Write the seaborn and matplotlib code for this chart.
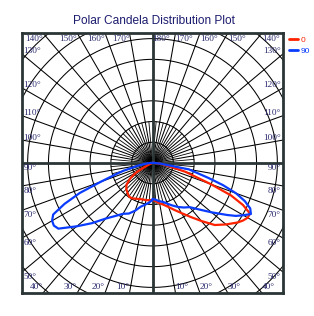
import numpy as np
import pandas as pd
import seaborn as sns
import matplotlib
matplotlib.use("Agg")
import matplotlib.pyplot as plt
from matplotlib.lines import Line2D

# ---- data (candela; ring spacing = 100 cd) ----
angles = [0, 5, 10, 15, 20, 25, 30, 35, 40, 45, 50, 55, 57.5, 60, 62.5, 65,
          67.5, 70, 72.5, 75, 80, 85, 90, 100, 120, 140, 160, 180]
# plane "0": C0 (right half) and C180 (left half)
c0 = [178, 185, 197, 209, 226, 250, 279, 317, 365, 423, 461, 500, 516, 528, 528, 480,
      408, 298, 211, 163, 72, 34, 10, 5, 2, 1, 1, 0]
c180 = [178, 180, 182, 182, 185, 190, 197, 197, 187, 178, 163, 132, 110, 86, 48, 24,
        14, 10, 7, 5, 5, 4, 3, 2, 1, 1, 0, 0]
# plane "90": C90 (right half) and C270 (left half)
c90 = [173, 178, 187, 194, 209, 226, 245, 262, 278, 317, 370, 437, 475, 504, 533, 518,
       480, 427, 355, 278, 178, 40, 14, 5, 2, 1, 0, 0]
c270 = [178, 192, 204, 218, 245, 269, 283, 312, 350, 410, 475, 552, 562, 557, 538, 466,
        379, 264, 192, 144, 67, 29, 10, 5, 2, 1, 0, 0]

plane_labels = ["0", "90"]
plane_colors = ["#ff2200", "#0a3cff"]
tick_angles = [10, 20, 30, 40, 50, 60, 70, 80, 90, 100, 110, 120, 130, 140, 150, 160, 170, 180]
title = "Polar Candela Distribution Plot"

# ---- build table ----
def half(values, side):
    a = np.radians(np.array(angles, dtype=float))
    r = np.array(values, dtype=float)
    return side * r * np.sin(a), -r * np.cos(a)

rows = []
for label, left, right in [("0", c180, c0), ("90", c270, c90)]:
    xl, yl = half(left, -1)
    xr, yr = half(right, 1)
    xs = np.concatenate([xl[::-1], xr])
    ys = np.concatenate([yl[::-1], yr])
    for i, (x, y) in enumerate(zip(xs, ys)):
        rows.append({"plane": label, "x": x, "y": y, "order": i})
df = pd.DataFrame(rows)

sns.set_theme(style="white")
W, H = 314, 316
fig = plt.figure(figsize=(W / 100, H / 100), dpi=100)
ax = fig.add_axes([22 / W, 23 / H, 261 / W, 260 / H])

B = 627.0          # half box size in cd
PX = B / 130.5     # cd per pixel
ax.set_xlim(-B, B)
ax.set_ylim(-B, B)
ax.set_aspect("auto")

# grid rings
t = np.linspace(0, 2 * np.pi, 400)
for k in range(1, 10):
    ax.plot(100 * k * np.cos(t), 100 * k * np.sin(t), color="black", lw=0.75, zorder=1)
# radial lines
for a in range(0, 360, 5):
    ar = np.radians(a)
    full = a % 10 == 0
    rmax = 950 if full else 200
    ax.plot([0, rmax * np.sin(ar)], [0, -rmax * np.cos(ar)], color="black",
            lw=0.75 if full else 0.6, zorder=1)

ax.axhline(0, color="#2b3535", lw=2.0, zorder=2)
ax.axvline(0, color="#2b3535", lw=2.0, zorder=2)

sns.lineplot(data=df, x="x", y="y", hue="plane", palette=dict(zip(plane_labels, plane_colors)),
             sort=False, estimator=None, lw=1.6, legend=False, ax=ax, zorder=3)

for s in ax.spines.values():
    s.set_color("#2b3535")
    s.set_linewidth(2.0)
ax.set_xticks([])
ax.set_yticks([])
ax.set_xlabel("")
ax.set_ylabel("")

# angle labels along the box edges
lab_kw = dict(fontsize=6.7, family=["Liberation Serif", "DejaVu Serif"], color="#2a2a6e", zorder=4)
for a in tick_angles:
    ar = np.radians(a)
    sides = (1,) if a == 180 else (-1, 1)
    for side in sides:
        dx, dy = side * np.sin(ar), -np.cos(ar)
        tt = B / max(abs(dx), abs(dy))
        px, py = tt * dx, tt * dy
        txt = f"{a}°"
        ha_side = "left" if side > 0 else "right"
        if abs(dy) >= abs(dx) - 1e-9:
            if dy < 0:
                ax.text(px, -B + 2.5 * PX, txt, ha=ha_side, va="bottom", **lab_kw)
            else:
                ax.text(px, B - 2 * PX, txt, ha=ha_side, va="top", **lab_kw)
        else:
            xx = -B + 1.5 * PX if side < 0 else B - 2 * PX
            ha = "left" if side < 0 else "right"
            if a <= 90:
                ax.text(xx, py - 0.8 * PX, txt, ha=ha, va="top", **lab_kw)
            else:
                ax.text(xx, py - 1.5 * PX, txt, ha=ha, va="bottom", **lab_kw)

fig.text(154 / W, 1 - 24 / H, title, ha="center", va="baseline", fontsize=8.6,
         family=["Liberation Sans", "DejaVu Sans"], color="#1c1c70")

handles = [Line2D([], [], color=c, lw=2) for c in plane_colors]
leg = ax.legend(handles, plane_labels, loc="upper left", bbox_to_anchor=(289 / W, 1 - 36.5 / H),
                bbox_transform=fig.transFigure, frameon=False, handlelength=1.1,
                handletextpad=0.25, fontsize=6, labelspacing=0.3, borderpad=0,
                borderaxespad=0, labelcolor="linecolor",
                prop={"family": ["Liberation Sans", "DejaVu Sans"], "size": 6})

fig.savefig("out.png", dpi=100)
